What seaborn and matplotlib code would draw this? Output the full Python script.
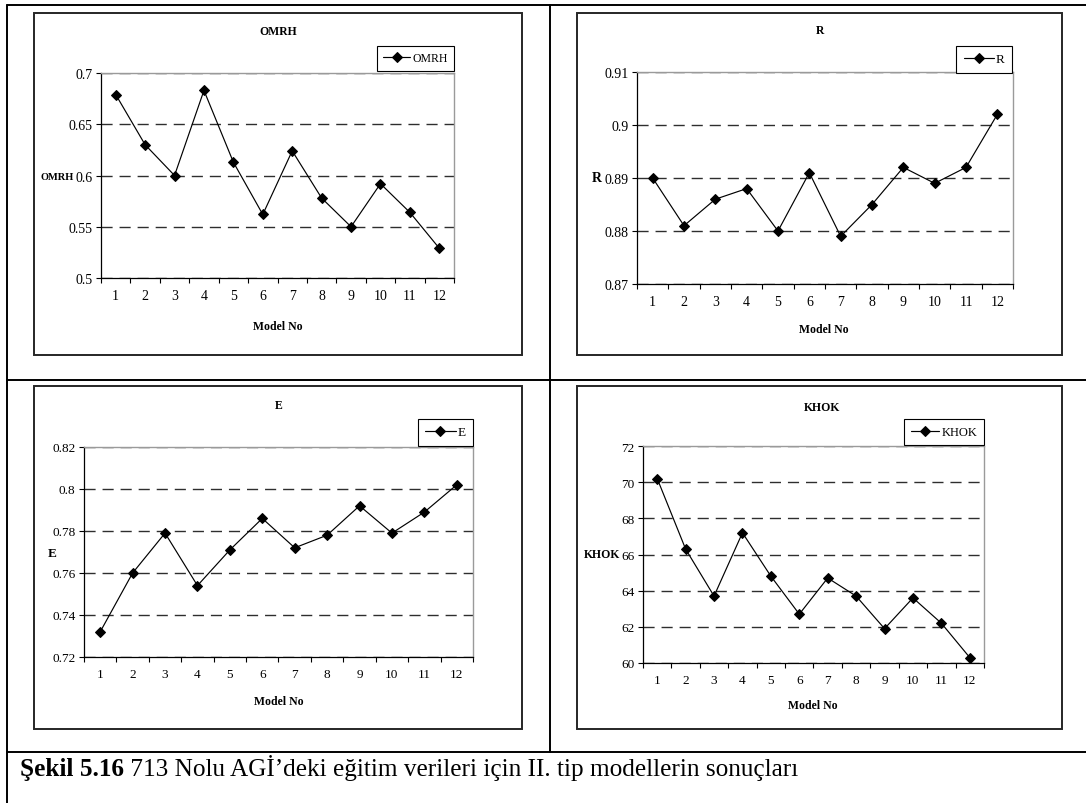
import matplotlib
matplotlib.use("Agg")
import matplotlib.pyplot as plt
import seaborn as sns
import pandas as pd
import numpy as np
from matplotlib.patches import Rectangle
from matplotlib.lines import Line2D
from matplotlib.ticker import FixedLocator, NullFormatter

# ---- data -------------------------------------------------------------
models = list(range(1, 13))

omrh = [0.679, 0.630, 0.600, 0.683, 0.613, 0.562, 0.624, 0.578, 0.550, 0.592, 0.564, 0.529]
r_vals = [0.890, 0.881, 0.886, 0.888, 0.880, 0.891, 0.879, 0.885, 0.892, 0.889, 0.892, 0.902]
e_vals = [0.732, 0.760, 0.779, 0.754, 0.771, 0.786, 0.772, 0.778, 0.792, 0.779, 0.789, 0.802]
khok = [70.2, 66.3, 63.7, 67.2, 64.8, 62.7, 64.7, 63.7, 61.9, 63.6, 62.2, 60.3]

omrh_ticks = [0.5, 0.55, 0.6, 0.65, 0.7]
omrh_ticklabels = ["0.5", "0.55", "0.6", "0.65", "0.7"]
r_ticks = [0.87, 0.88, 0.89, 0.90, 0.91]
r_ticklabels = ["0.87", "0.88", "0.89", "0.9", "0.91"]
e_ticks = [0.72, 0.74, 0.76, 0.78, 0.80, 0.82]
e_ticklabels = ["0.72", "0.74", "0.76", "0.78", "0.8", "0.82"]
khok_ticks = [60, 62, 64, 66, 68, 70, 72]
khok_ticklabels = ["60", "62", "64", "66", "68", "70", "72"]

x_label = "Model No"
caption_bold = "Şekil 5.16"
caption_rest = " 713 Nolu AGİ’deki eğitim verileri için II. tip modellerin sonuçları"

# ---- figure setup -----------------------------------------------------
W, H = 1086, 804
sns.set_theme(style="white")
plt.rcParams["font.family"] = ["Liberation Serif", "DejaVu Serif"]
plt.rcParams["text.color"] = "black"
plt.rcParams["axes.labelcolor"] = "black"
plt.rcParams["xtick.color"] = "black"
plt.rcParams["ytick.color"] = "black"

fig = plt.figure(figsize=(W / 100, H / 100), dpi=100)
fig.patch.set_facecolor("white")


def fxy(px, py):
    return px / W, 1 - py / H


def add_panel(name, values, ticks, ticklabels, frame, plot, legend_right_top,
              title_xy, xlabel_xy, ylabel_xy, tick_fs, title_fs, ylabel_fs, legend_fs):
    # chart-area frame
    fx0, fy0, fx1, fy1 = frame
    fig.patches.append(Rectangle(fxy(fx0, fy1), (fx1 - fx0) / W, (fy1 - fy0) / H,
                                 transform=fig.transFigure, fill=False,
                                 edgecolor="#262626", linewidth=1.4, zorder=1))
    x0, y0, x1, y1 = plot
    ax = fig.add_axes([x0 / W, 1 - y1 / H, (x1 - x0) / W, (y1 - y0) / H])
    df = pd.DataFrame({"Model": models, name: values})
    sns.lineplot(data=df, x="Model", y=name, ax=ax, color="black", linewidth=0.85,
                 marker="D", markersize=5.0, markeredgecolor="black",
                 markerfacecolor="black", label=name, zorder=3)

    ax.set_xlim(0.5, 12.5)
    ax.set_ylim(ticks[0], ticks[-1])
    ax.xaxis.set_major_locator(FixedLocator(np.arange(0.5, 12.6, 1.0)))
    ax.xaxis.set_major_formatter(NullFormatter())
    ax.set_xticks(models, labels=[str(m) for m in models], minor=True)
    ax.set_yticks(ticks, labels=ticklabels)
    ax.tick_params(axis="x", which="major", bottom=True, direction="out",
                   length=3.6, width=0.8, color="black")
    ax.tick_params(axis="x", which="minor", bottom=True, length=0, pad=8,
                   labelsize=tick_fs)
    ax.tick_params(axis="y", which="major", left=True, direction="out",
                   length=3.6, width=0.8, pad=2.5, labelsize=tick_fs)
    ax.set_xlabel("")
    ax.set_ylabel("")

    ax.yaxis.grid(True, linestyle=(0, (8, 5)), color="#2e2e2e", linewidth=1.0)
    ax.xaxis.grid(False)
    ax.set_axisbelow(True)
    for side in ("top", "right"):
        ax.spines[side].set_color("#9a9a9a")
        ax.spines[side].set_linewidth(1.0)
    for side in ("left", "bottom"):
        ax.spines[side].set_color("black")
        ax.spines[side].set_linewidth(0.9)

    lx, ly = legend_right_top
    leg = ax.legend(loc="upper right", bbox_to_anchor=fxy(lx, ly),
                    bbox_transform=fig.transFigure, borderaxespad=0,
                    frameon=True, fancybox=False, shadow=False,
                    handlelength=2.3, handletextpad=0.15, borderpad=0.55,
                    fontsize=legend_fs)
    leg.get_frame().set_edgecolor("black")
    leg.get_frame().set_linewidth(0.8)
    leg.get_frame().set_alpha(1)

    fig.text(*fxy(*title_xy), name, ha="center", va="center",
             fontsize=title_fs, fontweight="bold")
    fig.text(*fxy(*xlabel_xy), x_label, ha="center", va="center",
             fontsize=title_fs, fontweight="bold")
    fig.text(*fxy(*ylabel_xy), name, ha="center", va="center",
             fontsize=ylabel_fs, fontweight="bold")
    return ax


add_panel("OMRH", omrh, omrh_ticks, omrh_ticklabels,
          frame=(34, 14, 522, 356), plot=(101, 74, 454, 279),
          legend_right_top=(454, 47), title_xy=(278, 32), xlabel_xy=(278, 327),
          ylabel_xy=(57, 177), tick_fs=10, title_fs=8.5, ylabel_fs=7.5, legend_fs=8.5)

add_panel("R", r_vals, r_ticks, r_ticklabels,
          frame=(577, 14, 1062, 356), plot=(637, 73, 1013, 285),
          legend_right_top=(1012, 47), title_xy=(820, 31), xlabel_xy=(824, 330),
          ylabel_xy=(597, 179), tick_fs=10, title_fs=8.5, ylabel_fs=10, legend_fs=9.5)

add_panel("E", e_vals, e_ticks, e_ticklabels,
          frame=(34, 387, 522, 730), plot=(84, 448, 473, 658),
          legend_right_top=(473, 420), title_xy=(279, 406), xlabel_xy=(279, 702),
          ylabel_xy=(52, 554), tick_fs=9.5, title_fs=8.5, ylabel_fs=9.5, legend_fs=9.5)

add_panel("KHOK", khok, khok_ticks, khok_ticklabels,
          frame=(577, 387, 1062, 730), plot=(643, 447, 984, 664),
          legend_right_top=(984, 420), title_xy=(822, 408), xlabel_xy=(813, 706),
          ylabel_xy=(602, 555), tick_fs=9.5, title_fs=8.5, ylabel_fs=8.5, legend_fs=9)

# ---- surrounding table rules ---------------------------------------
def hline(y, x0, x1):
    fig.lines.append(Line2D([x0 / W, x1 / W], [1 - y / H, 1 - y / H],
                            transform=fig.transFigure, color="black", linewidth=1.4))


def vline(x, y0, y1):
    fig.lines.append(Line2D([x / W, x / W], [1 - y0 / H, 1 - y1 / H],
                            transform=fig.transFigure, color="black", linewidth=1.4))


hline(6, 7, W)
hline(381, 7, W)
hline(753, 7, W)
vline(7, 6, H)
vline(550, 6, 753)

# ---- caption --------------------------------------------------------
cap_y = 1 - 776 / H
t1 = fig.text(20 / W, cap_y, caption_bold, ha="left", va="baseline",
              fontsize=18.2, fontweight="bold")
fig.canvas.draw()
bb = t1.get_window_extent(renderer=fig.canvas.get_renderer())
fig.text(bb.x1 / W, cap_y, caption_rest, ha="left", va="baseline", fontsize=18.2)

fig.savefig("out.png", dpi=100, facecolor="white")
